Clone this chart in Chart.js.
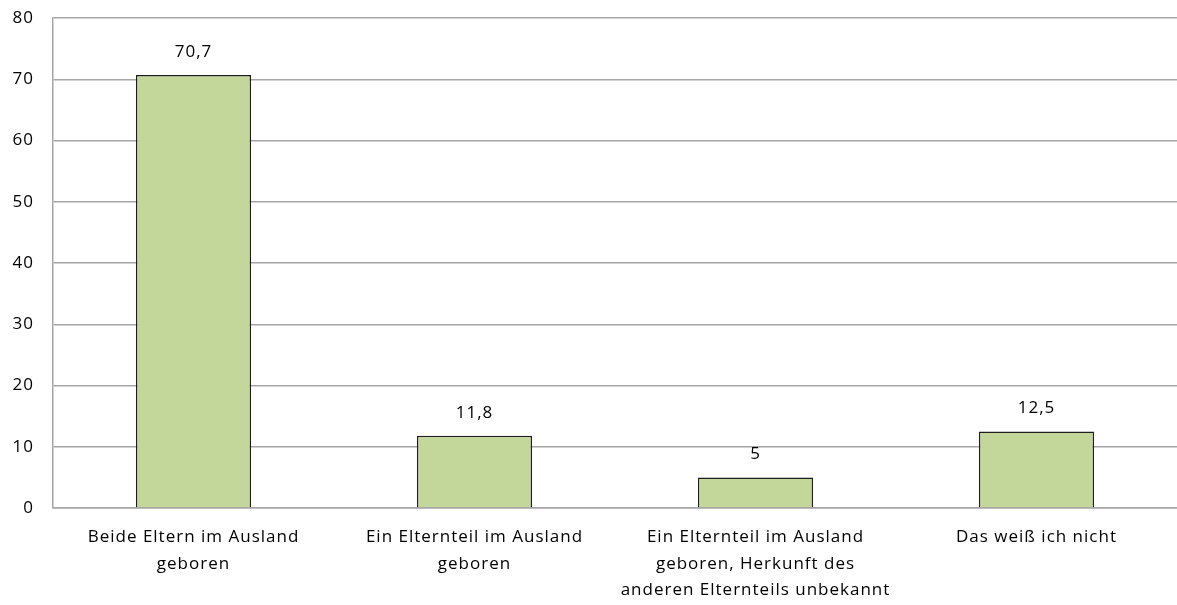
<!DOCTYPE html>
<html>
<head>
<meta charset="utf-8">
<script src="https://cdn.jsdelivr.net/npm/chart.js@4/dist/chart.umd.min.js"></script>
<style>
  html, body { margin: 0; padding: 0; background: #fff; }
  #wrap { width: 1177px; height: 605px; }
</style>
</head>
<body>
<div id="wrap"><canvas id="myChart" width="1177" height="605"></canvas></div>
<script>
const categories = [
    ['Beide Eltern im Ausland', 'geboren'],
    ['Ein Elternteil im Ausland', 'geboren'],
    ['Ein Elternteil im Ausland', 'geboren, Herkunft des', 'anderen Elternteils unbekannt'],
    ['Das weiß ich nicht']
];
const shares = [70.7, 11.8, 5, 12.5];
const yTicks = [0, 10, 20, 30, 40, 50, 60, 70, 80];

const fontFamily = '"Open Sans", "Liberation Sans", sans-serif';

// slightly spaced lettering for all text on the canvas
const spacing = {
    id: 'spacing',
    beforeDraw(chart) {
        chart.ctx.letterSpacing = '1px';
    }
};

// value above each bar, German decimal comma
const valueLabels = {
    id: 'valueLabels',
    afterDatasetsDraw(chart) {
        const ctx = chart.ctx;
        const meta = chart.getDatasetMeta(0);
        ctx.save();
        ctx.font = '17px ' + fontFamily;
        ctx.fillStyle = '#000';
        ctx.textAlign = 'center';
        ctx.textBaseline = 'middle';
        meta.data.forEach(function(bar, i) {
            const txt = String(shares[i]).replace('.', ',');
            ctx.fillText(txt, bar.x, bar.y - 23);
        });
        ctx.restore();
    }
};

window.onload = function() {
    const ctx = document.getElementById('myChart').getContext('2d');
    new Chart(ctx, {
        type: 'bar',
        data: {
            labels: categories,
            datasets: [{
                data: shares,
                backgroundColor: '#c4d79b',
                borderColor: '#1e1e1e',
                borderWidth: 1.5,
                borderSkipped: 'bottom',
                categoryPercentage: 1,
                barPercentage: 0.41
            }]
        },
        options: {
            responsive: false,
            animation: false,
            layout: { padding: { top: 0, right: 0, left: 0, bottom: 0 } },
            plugins: {
                legend: { display: false },
                tooltip: { enabled: false }
            },
            scales: {
                x: {
                    grid: { display: false, drawTicks: false },
                    border: { color: '#a6a6a6', width: 1.5 },
                    ticks: {
                        color: '#000',
                        font: { family: fontFamily, size: 17, lineHeight: 1.56 },
                        padding: 16,
                        maxRotation: 0,
                        autoSkip: false
                    },
                    afterFit(scale) { scale.height = 97; }
                },
                y: {
                    min: 0,
                    max: 80,
                    afterBuildTicks(axis) {
                        axis.ticks = yTicks.map(v => ({ value: v }));
                    },
                    grid: { color: '#a6a6a6', lineWidth: 1.5, drawTicks: false },
                    border: { color: '#a6a6a6', width: 1.5 },
                    ticks: {
                        color: '#000',
                        font: { family: fontFamily, size: 17 },
                        padding: 19
                    },
                    afterFit(scale) {
                        scale.width = 53;
                        scale.paddingTop = 18;
                    }
                }
            }
        },
        plugins: [spacing, valueLabels]
    });
};
</script>
</body>
</html>
